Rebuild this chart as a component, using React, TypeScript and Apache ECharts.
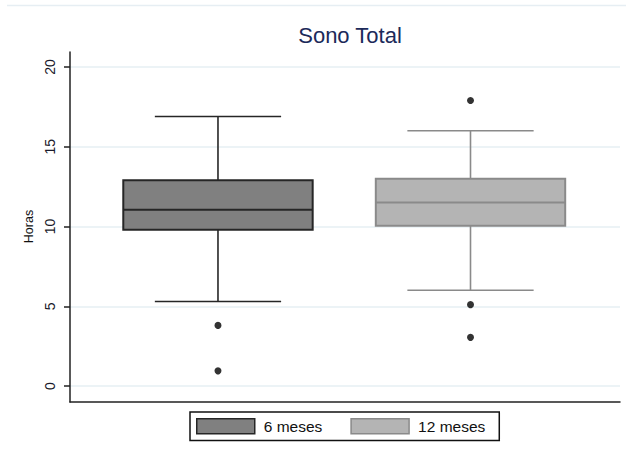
import React, { useEffect, useRef } from "react";
import * as echarts from "echarts";

// Group names and their x positions on the value axis
const groups = ["6 meses", "12 meses"];
const positions = [1, 2];

// Box statistics per group (hours): lower whisker, Q1, median, Q3, upper whisker
const lowerWhisker = [5.3, 6.0];
const q1 = [9.8, 10.05];
const median = [11.05, 11.5];
const q3 = [12.9, 13.0];
const upperWhisker = [16.9, 16.0];

// Outside values per group
const outliers6 = [3.8, 0.95];
const outliers12 = [17.9, 5.1, 3.05];

// Y axis ticks
const yTicks = [0, 5, 10, 15, 20];

const fills = ["#808080", "#b4b4b4"];
const strokes = ["#262626", "#8a8a8a"];

const BOX_WIDTH = 0.75;
const CAP_WIDTH = 0.5;

function boxRenderer(stroke: string, fill: string) {
  return (params: any, api: any) => {
    const x = api.value(0);
    const lo = api.coord([x, api.value(1)]);
    const b1 = api.coord([x, api.value(2)]);
    const md = api.coord([x, api.value(3)]);
    const b3 = api.coord([x, api.value(4)]);
    const hi = api.coord([x, api.value(5)]);
    const bw = api.size([BOX_WIDTH, 0])[0];
    const cw = api.size([CAP_WIDTH, 0])[0];
    const lineStyle = { stroke, lineWidth: 1.6 };
    return {
      type: "group",
      children: [
        { type: "line", shape: { x1: hi[0], y1: hi[1], x2: b3[0], y2: b3[1] }, style: lineStyle },
        { type: "line", shape: { x1: b1[0], y1: b1[1], x2: lo[0], y2: lo[1] }, style: lineStyle },
        { type: "line", shape: { x1: hi[0] - cw / 2, y1: hi[1], x2: hi[0] + cw / 2, y2: hi[1] }, style: lineStyle },
        { type: "line", shape: { x1: lo[0] - cw / 2, y1: lo[1], x2: lo[0] + cw / 2, y2: lo[1] }, style: lineStyle },
        {
          type: "rect",
          shape: { x: b3[0] - bw / 2, y: b3[1], width: bw, height: b1[1] - b3[1] },
          style: { fill, stroke, lineWidth: 2 },
        },
        { type: "line", shape: { x1: md[0] - bw / 2, y1: md[1], x2: md[0] + bw / 2, y2: md[1] }, style: { stroke, lineWidth: 2 } },
      ],
    };
  };
}

export default function App() {
  const ref = useRef<HTMLDivElement>(null);

  useEffect(() => {
    if (!ref.current) return;
    const chart = echarts.init(ref.current, null, { renderer: "svg" });
    const font = "'Liberation Sans', Arial, sans-serif";

    const boxSeries = groups.map((name, i) => ({
      name,
      type: "custom",
      xAxisIndex: 0,
      yAxisIndex: 0,
      encode: { x: 0, y: [1, 2, 3, 4, 5] },
      itemStyle: { color: fills[i], borderColor: strokes[i] },
      data: [[positions[i], lowerWhisker[i], q1[i], median[i], q3[i], upperWhisker[i]]],
      renderItem: boxRenderer(strokes[i], fills[i]),
      z: 2,
    }));

    const outlierSeries = [outliers6, outliers12].map((vals, i) => ({
      name: groups[i] + " outliers",
      type: "scatter",
      xAxisIndex: 0,
      yAxisIndex: 0,
      symbol: "circle",
      symbolSize: 7,
      itemStyle: { color: "#000" },
      data: vals.map((v) => [positions[i], v]),
      z: 3,
    }));

    chart.setOption({
      animation: false,
      backgroundColor: "#fff",
      title: {
        text: "Sono Total",
        left: 345,
        textAlign: "center",
        top: 19,
        textStyle: { fontFamily: font, fontSize: 22, fontWeight: "normal", color: "#1c2a5a" },
      },
      graphic: [
        {
          type: "line",
          shape: { x1: 7, y1: 5.5, x2: 626, y2: 5.5 },
          style: { stroke: "#e6eef3", lineWidth: 1.5 },
          silent: true,
        },
      ],
      grid: [
        { left: 70, right: 6, top: 67, bottom: 73 },
        { left: 70, right: 6, top: 52, bottom: 57 },
      ],
      xAxis: [
        {
          type: "value",
          gridIndex: 0,
          min: 0.414,
          max: 2.592,
          axisLine: { show: false },
          axisTick: { show: false },
          axisLabel: { show: false },
          splitLine: { show: false },
        },
        {
          type: "value",
          gridIndex: 1,
          min: 0,
          max: 1,
          axisLine: { show: true, onZero: false, lineStyle: { color: "#222", width: 1.5 } },
          axisTick: { show: false },
          axisLabel: { show: false },
          splitLine: { show: false },
        },
      ],
      yAxis: [
        {
          type: "value",
          gridIndex: 0,
          min: yTicks[0],
          max: yTicks[yTicks.length - 1],
          interval: 5,
          name: "Horas",
          nameLocation: "middle",
          nameRotate: 90,
          nameGap: 28,
          nameTextStyle: { fontFamily: font, fontSize: 12.5, color: "#111" },
          axisLine: { show: false },
          axisTick: { show: true, length: 6, lineStyle: { color: "#222", width: 1.5 } },
          axisLabel: { rotate: 90, margin: 13, fontFamily: font, fontSize: 14, color: "#1a1a2a" },
          splitLine: { show: true, lineStyle: { color: "#e6eff3", width: 1.5 } },
        },
        {
          type: "value",
          gridIndex: 1,
          min: 0,
          max: 1,
          axisLine: { show: true, onZero: false, lineStyle: { color: "#222", width: 1.5 } },
          axisTick: { show: false },
          axisLabel: { show: false },
          splitLine: { show: false },
        },
      ],
      legend: {
        left: 190,
        top: 412,
        orient: "horizontal",
        padding: [6, 14, 6, 6],
        itemWidth: 58,
        itemHeight: 15,
        itemGap: 28,
        borderColor: "#111",
        borderWidth: 1.5,
        textStyle: { fontFamily: font, fontSize: 15.5, color: "#111", padding: [0, 0, 0, 4] },
        data: groups.map((name, i) => ({
          name,
          icon: "rect",
          itemStyle: { color: fills[i], borderColor: strokes[i], borderWidth: 1.5 },
        })),
        selectedMode: false,
      },
      series: [...boxSeries, ...outlierSeries],
    });

    return () => chart.dispose();
  }, []);

  return (
    <div
      ref={ref}
      style={{ position: "fixed", left: 0, top: 0, width: 626, height: 459 }}
    />
  );
}
